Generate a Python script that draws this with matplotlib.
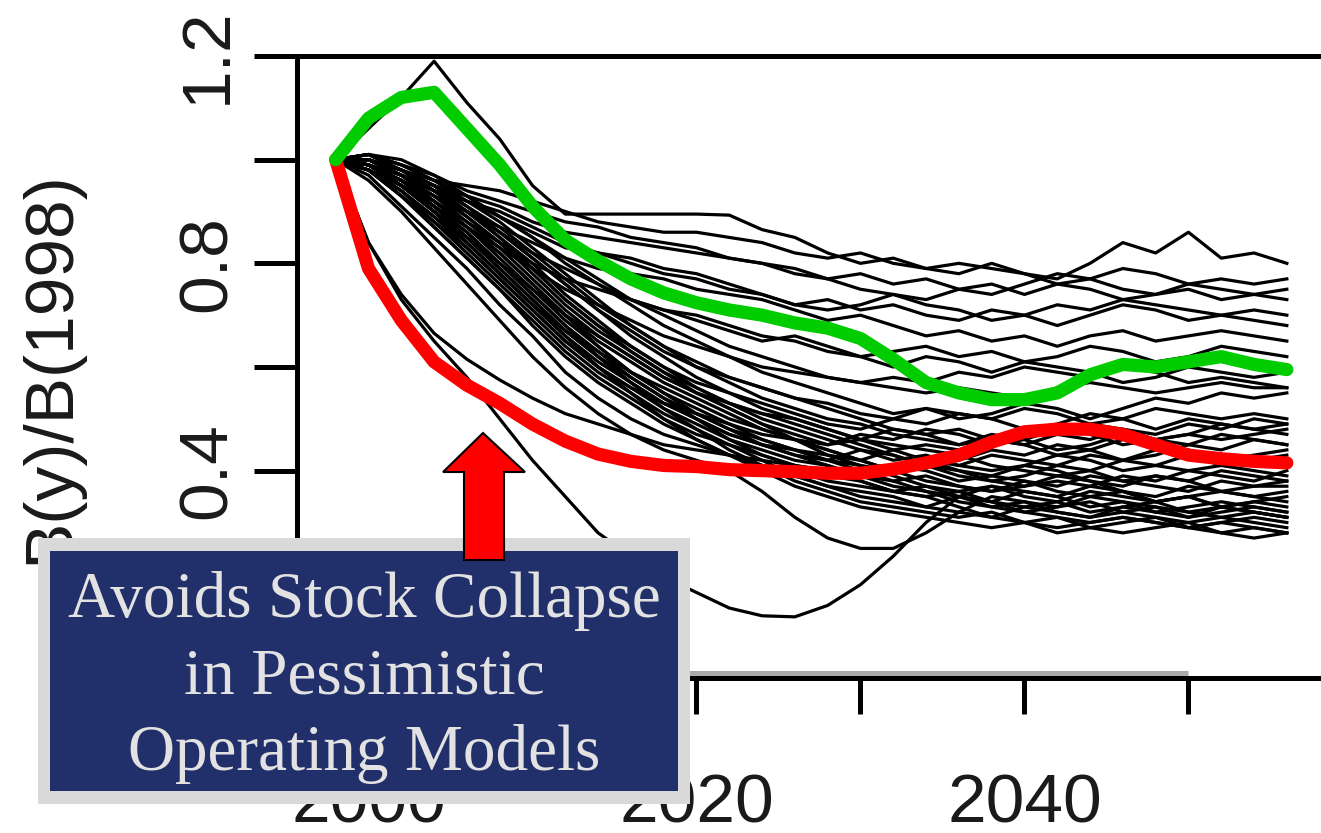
import numpy as np
import matplotlib.pyplot as plt
from matplotlib.patches import Rectangle, Polygon

W, H = 1321, 833

# projection years (every 2nd year)
years = np.arange(1998, 2057, 2)

green = [1.00, 1.08, 1.12, 1.13, 1.06, 0.99, 0.91, 0.845, 0.805, 0.77,
         0.743, 0.724, 0.71, 0.70, 0.685, 0.675, 0.655, 0.615, 0.57, 0.55,
         0.537, 0.537, 0.55, 0.585, 0.605, 0.60, 0.61, 0.62, 0.605, 0.595]
red = [1.00, 0.79, 0.69, 0.61, 0.565, 0.53, 0.49, 0.457, 0.432, 0.418,
       0.41, 0.408, 0.402, 0.40, 0.398, 0.395, 0.395, 0.403, 0.415, 0.43,
       0.455, 0.475, 0.48, 0.48, 0.47, 0.45, 0.43, 0.423, 0.418, 0.415]

# runs that stay high
upper_runs = [
    [1.00, 1.06, 1.12, 1.19, 1.11, 1.04, 0.95, 0.895, 0.895, 0.895, 0.895, 0.895, 0.893, 0.865, 0.85, 0.82, 0.80, 0.81, 0.79, 0.78, 0.80, 0.78, 0.76, 0.77, 0.75, 0.74, 0.75, 0.73, 0.74, 0.73],
    [1.00, 1.00, 0.98, 0.96, 0.95, 0.94, 0.92, 0.90, 0.88, 0.87, 0.86, 0.86, 0.85, 0.84, 0.82, 0.81, 0.82, 0.80, 0.79, 0.80, 0.79, 0.78, 0.77, 0.80, 0.84, 0.82, 0.86, 0.81, 0.82, 0.80],
    [1.00, 1.00, 0.98, 0.95, 0.93, 0.91, 0.88, 0.86, 0.85, 0.84, 0.83, 0.82, 0.81, 0.80, 0.78, 0.77, 0.78, 0.76, 0.77, 0.75, 0.76, 0.74, 0.76, 0.75, 0.73, 0.74, 0.76, 0.75, 0.74, 0.75],
    [1.00, 0.99, 0.97, 0.94, 0.92, 0.89, 0.86, 0.83, 0.82, 0.81, 0.79, 0.78, 0.76, 0.74, 0.72, 0.73, 0.71, 0.72, 0.70, 0.69, 0.71, 0.70, 0.68, 0.70, 0.72, 0.71, 0.69, 0.70, 0.69, 0.68],
    [1.00, 0.99, 0.96, 0.93, 0.90, 0.87, 0.84, 0.81, 0.79, 0.78, 0.77, 0.75, 0.74, 0.73, 0.71, 0.69, 0.70, 0.68, 0.66, 0.67, 0.65, 0.66, 0.64, 0.66, 0.67, 0.65, 0.66, 0.67, 0.66, 0.65],
    [1.00, 0.98, 0.95, 0.92, 0.88, 0.84, 0.80, 0.77, 0.75, 0.73, 0.71, 0.70, 0.68, 0.66, 0.65, 0.63, 0.62, 0.63, 0.64, 0.62, 0.63, 0.61, 0.62, 0.64, 0.63, 0.61, 0.62, 0.64, 0.63, 0.62],
    [1.00, 1.00, 0.97, 0.95, 0.92, 0.90, 0.87, 0.84, 0.82, 0.80, 0.78, 0.77, 0.75, 0.74, 0.72, 0.71, 0.72, 0.74, 0.73, 0.75, 0.74, 0.76, 0.78, 0.77, 0.79, 0.78, 0.76, 0.77, 0.76, 0.77],
    [1.00, 0.98, 0.95, 0.91, 0.87, 0.83, 0.79, 0.75, 0.72, 0.69, 0.66, 0.64, 0.62, 0.60, 0.59, 0.58, 0.57, 0.58, 0.57, 0.59, 0.58, 0.60, 0.59, 0.58, 0.60, 0.59, 0.57, 0.58, 0.57, 0.56],
    [1.00, 1.01, 0.99, 0.97, 0.94, 0.92, 0.90, 0.88, 0.87, 0.85, 0.84, 0.83, 0.81, 0.80, 0.79, 0.77, 0.75, 0.74, 0.72, 0.71, 0.69, 0.70, 0.72, 0.71, 0.73, 0.72, 0.71, 0.70, 0.71, 0.70],
    [1.00, 0.99, 0.97, 0.94, 0.90, 0.86, 0.82, 0.79, 0.76, 0.73, 0.71, 0.69, 0.67, 0.65, 0.66, 0.64, 0.62, 0.60, 0.62, 0.61, 0.59, 0.61, 0.60, 0.59, 0.57, 0.58, 0.60, 0.59, 0.58, 0.59],
]

# main bundle
bundle_runs = [
    [1.00, 0.97, 0.91, 0.85, 0.79, 0.72, 0.66, 0.59, 0.54, 0.50, 0.47, 0.45, 0.43, 0.41, 0.40, 0.38, 0.37, 0.36, 0.37, 0.35, 0.34, 0.36, 0.35, 0.33, 0.34, 0.33, 0.32, 0.33, 0.32, 0.31],
    [1.00, 0.98, 0.93, 0.87, 0.81, 0.75, 0.69, 0.63, 0.58, 0.54, 0.50, 0.47, 0.45, 0.43, 0.41, 0.40, 0.39, 0.41, 0.40, 0.38, 0.39, 0.41, 0.40, 0.38, 0.37, 0.39, 0.38, 0.36, 0.37, 0.38],
    [1.00, 0.99, 0.95, 0.90, 0.84, 0.78, 0.72, 0.66, 0.61, 0.57, 0.53, 0.50, 0.47, 0.45, 0.43, 0.42, 0.44, 0.43, 0.41, 0.42, 0.44, 0.43, 0.45, 0.44, 0.42, 0.43, 0.45, 0.44, 0.46, 0.45],
    [1.00, 0.99, 0.96, 0.92, 0.87, 0.81, 0.75, 0.69, 0.64, 0.59, 0.55, 0.52, 0.49, 0.46, 0.44, 0.42, 0.40, 0.38, 0.36, 0.35, 0.33, 0.32, 0.31, 0.30, 0.31, 0.30, 0.29, 0.30, 0.29, 0.28],
    [1.00, 1.00, 0.97, 0.93, 0.88, 0.83, 0.77, 0.71, 0.66, 0.62, 0.58, 0.55, 0.52, 0.49, 0.47, 0.45, 0.46, 0.48, 0.47, 0.45, 0.46, 0.48, 0.47, 0.49, 0.48, 0.46, 0.47, 0.49, 0.48, 0.47],
    [1.00, 0.98, 0.94, 0.88, 0.82, 0.76, 0.70, 0.64, 0.59, 0.55, 0.51, 0.48, 0.45, 0.42, 0.39, 0.37, 0.35, 0.34, 0.33, 0.35, 0.34, 0.32, 0.33, 0.35, 0.34, 0.32, 0.33, 0.34, 0.33, 0.32],
    [1.00, 1.01, 0.98, 0.94, 0.90, 0.85, 0.80, 0.74, 0.69, 0.64, 0.60, 0.56, 0.53, 0.50, 0.48, 0.46, 0.44, 0.42, 0.43, 0.41, 0.40, 0.41, 0.43, 0.42, 0.40, 0.41, 0.43, 0.42, 0.41, 0.42],
    [1.00, 0.99, 0.95, 0.91, 0.86, 0.80, 0.74, 0.68, 0.63, 0.58, 0.54, 0.50, 0.46, 0.43, 0.41, 0.39, 0.38, 0.36, 0.35, 0.33, 0.31, 0.30, 0.31, 0.29, 0.30, 0.31, 0.29, 0.28, 0.29, 0.28],
    [1.00, 1.00, 0.97, 0.94, 0.89, 0.84, 0.79, 0.73, 0.68, 0.64, 0.60, 0.57, 0.55, 0.53, 0.51, 0.49, 0.48, 0.50, 0.49, 0.51, 0.50, 0.48, 0.49, 0.51, 0.50, 0.48, 0.50, 0.49, 0.48, 0.49],
    [1.00, 0.98, 0.93, 0.88, 0.83, 0.77, 0.71, 0.65, 0.60, 0.56, 0.52, 0.49, 0.46, 0.44, 0.42, 0.41, 0.39, 0.38, 0.39, 0.37, 0.36, 0.37, 0.39, 0.38, 0.36, 0.35, 0.37, 0.36, 0.35, 0.36],
    [1.00, 1.00, 0.98, 0.95, 0.91, 0.86, 0.81, 0.76, 0.71, 0.66, 0.62, 0.58, 0.55, 0.52, 0.50, 0.48, 0.46, 0.44, 0.42, 0.40, 0.39, 0.38, 0.36, 0.35, 0.36, 0.34, 0.35, 0.33, 0.34, 0.35],
    [1.00, 0.99, 0.95, 0.90, 0.85, 0.79, 0.73, 0.67, 0.62, 0.57, 0.53, 0.50, 0.47, 0.45, 0.44, 0.43, 0.42, 0.44, 0.45, 0.44, 0.46, 0.45, 0.43, 0.44, 0.46, 0.45, 0.44, 0.42, 0.43, 0.44],
    [1.00, 1.01, 0.99, 0.96, 0.92, 0.88, 0.83, 0.78, 0.73, 0.68, 0.64, 0.60, 0.57, 0.54, 0.52, 0.50, 0.49, 0.47, 0.46, 0.45, 0.47, 0.46, 0.44, 0.45, 0.47, 0.46, 0.45, 0.47, 0.46, 0.45],
    [1.00, 0.99, 0.96, 0.91, 0.86, 0.80, 0.74, 0.68, 0.62, 0.57, 0.52, 0.48, 0.44, 0.41, 0.38, 0.36, 0.34, 0.33, 0.32, 0.31, 0.32, 0.30, 0.29, 0.30, 0.31, 0.30, 0.29, 0.30, 0.31, 0.30],
    [1.00, 1.00, 0.97, 0.93, 0.89, 0.84, 0.78, 0.72, 0.67, 0.63, 0.59, 0.56, 0.53, 0.51, 0.49, 0.47, 0.45, 0.43, 0.41, 0.40, 0.38, 0.37, 0.38, 0.37, 0.39, 0.38, 0.40, 0.39, 0.38, 0.40],
    [1.00, 1.01, 1.00, 0.97, 0.93, 0.89, 0.85, 0.80, 0.76, 0.72, 0.68, 0.65, 0.62, 0.59, 0.57, 0.55, 0.53, 0.51, 0.52, 0.50, 0.51, 0.53, 0.52, 0.50, 0.52, 0.54, 0.53, 0.55, 0.54, 0.55],
    [1.00, 1.00, 0.98, 0.95, 0.91, 0.87, 0.82, 0.77, 0.72, 0.68, 0.64, 0.61, 0.58, 0.56, 0.54, 0.52, 0.50, 0.48, 0.47, 0.48, 0.46, 0.45, 0.47, 0.46, 0.48, 0.47, 0.49, 0.48, 0.50, 0.49],
    [1.00, 0.98, 0.94, 0.89, 0.84, 0.78, 0.72, 0.66, 0.60, 0.55, 0.50, 0.46, 0.43, 0.40, 0.37, 0.35, 0.33, 0.32, 0.31, 0.30, 0.29, 0.30, 0.28, 0.29, 0.28, 0.29, 0.30, 0.28, 0.27, 0.28],
    [1.00, 1.01, 0.99, 0.96, 0.93, 0.89, 0.85, 0.81, 0.77, 0.73, 0.70, 0.67, 0.64, 0.62, 0.60, 0.58, 0.57, 0.56, 0.55, 0.56, 0.55, 0.54, 0.56, 0.57, 0.56, 0.55, 0.56, 0.57, 0.56, 0.56],
    [1.00, 0.99, 0.96, 0.92, 0.87, 0.82, 0.76, 0.70, 0.65, 0.61, 0.57, 0.54, 0.51, 0.48, 0.46, 0.44, 0.42, 0.40, 0.41, 0.39, 0.38, 0.39, 0.41, 0.40, 0.42, 0.41, 0.40, 0.41, 0.40, 0.39],
    [1.00, 1.00, 0.98, 0.94, 0.90, 0.86, 0.81, 0.76, 0.71, 0.67, 0.63, 0.60, 0.58, 0.56, 0.54, 0.53, 0.51, 0.50, 0.52, 0.51, 0.50, 0.52, 0.51, 0.49, 0.50, 0.52, 0.51, 0.50, 0.51, 0.50],
    [1.00, 0.99, 0.95, 0.90, 0.84, 0.78, 0.72, 0.67, 0.63, 0.59, 0.56, 0.53, 0.50, 0.48, 0.46, 0.43, 0.41, 0.39, 0.37, 0.36, 0.37, 0.35, 0.34, 0.36, 0.35, 0.34, 0.35, 0.36, 0.35, 0.34],
    [1.00, 0.99, 0.96, 0.91, 0.85, 0.79, 0.73, 0.67, 0.62, 0.58, 0.54, 0.51, 0.48, 0.46, 0.44, 0.42, 0.41, 0.40, 0.42, 0.41, 0.43, 0.42, 0.41, 0.43, 0.42, 0.44, 0.43, 0.41, 0.42, 0.43],
    [1.00, 1.00, 0.97, 0.92, 0.87, 0.82, 0.76, 0.70, 0.64, 0.59, 0.55, 0.51, 0.48, 0.45, 0.43, 0.41, 0.39, 0.37, 0.36, 0.34, 0.33, 0.34, 0.32, 0.31, 0.32, 0.31, 0.30, 0.31, 0.30, 0.29],
    [1.00, 0.98, 0.94, 0.89, 0.83, 0.77, 0.71, 0.65, 0.60, 0.56, 0.53, 0.51, 0.49, 0.47, 0.46, 0.45, 0.47, 0.46, 0.48, 0.47, 0.45, 0.46, 0.48, 0.47, 0.45, 0.46, 0.47, 0.46, 0.47, 0.48],
    [1.00, 1.01, 0.98, 0.95, 0.90, 0.85, 0.79, 0.73, 0.68, 0.63, 0.59, 0.55, 0.52, 0.49, 0.46, 0.44, 0.42, 0.40, 0.38, 0.37, 0.36, 0.38, 0.37, 0.39, 0.38, 0.37, 0.36, 0.38, 0.37, 0.37],
    [1.00, 0.99, 0.95, 0.90, 0.85, 0.80, 0.75, 0.70, 0.66, 0.62, 0.58, 0.55, 0.53, 0.51, 0.50, 0.48, 0.46, 0.45, 0.44, 0.43, 0.41, 0.40, 0.39, 0.40, 0.38, 0.39, 0.38, 0.40, 0.39, 0.38],
    [1.00, 0.98, 0.93, 0.87, 0.81, 0.75, 0.68, 0.62, 0.57, 0.53, 0.49, 0.46, 0.43, 0.41, 0.39, 0.37, 0.36, 0.35, 0.33, 0.32, 0.31, 0.33, 0.32, 0.31, 0.33, 0.32, 0.31, 0.33, 0.32, 0.31],
]

# runs that dip low
low_runs = [
    [1.00, 0.84, 0.73, 0.65, 0.58, 0.50, 0.42, 0.35, 0.28, 0.235, 0.195, 0.165, 0.135, 0.12, 0.118, 0.14, 0.18, 0.235, 0.30, 0.35, 0.37, 0.36, 0.35, 0.37, 0.36, 0.34, 0.35, 0.33, 0.34, 0.33],
    [1.00, 0.96, 0.90, 0.83, 0.76, 0.69, 0.62, 0.56, 0.51, 0.47, 0.44, 0.42, 0.40, 0.36, 0.31, 0.27, 0.25, 0.25, 0.28, 0.32, 0.35, 0.34, 0.33, 0.34, 0.32, 0.33, 0.31, 0.32, 0.33, 0.32],
    [1.00, 0.84, 0.74, 0.665, 0.615, 0.575, 0.54, 0.51, 0.49, 0.47, 0.45, 0.44, 0.43, 0.42, 0.41, 0.40, 0.38, 0.36, 0.35, 0.36, 0.34, 0.33, 0.34, 0.32, 0.33, 0.34, 0.32, 0.31, 0.32, 0.31],
]

x_ticks = [2000, 2010, 2020, 2030, 2040, 2050]
x_labels = ['2000', '', '2020', '', '2040', '']
y_ticks = [0.0, 0.2, 0.4, 0.6, 0.8, 1.0, 1.2]
y_labels = ['', '', '0.4', '', '0.8', '', '1.2']
note_lines = ['Avoids Stock Collapse', 'in Pessimistic', 'Operating Models']

plt.rcParams['font.family'] = 'Liberation Sans'


def fx(px):
    return px / W


def fy(py):
    return 1 - py / H


fig = plt.figure(figsize=(W / 100, H / 100), dpi=100)
ax = fig.add_axes([fx(297), fy(678), (1400 - 297) / W, (678 - 56) / H])
ax.set_xlim(1995.64, 2062.9)
ax.set_ylim(0, 1.2)

for run in upper_runs + bundle_runs + low_runs:
    ax.plot(years, run, color='black', lw=2.3, zorder=2)
ax.plot(years, red, color='#ff0000', lw=9.5, solid_capstyle='round', zorder=3)
ax.plot(years, green, color='#00cc00', lw=9.5, solid_capstyle='round', zorder=4)

# R style axis line just above the box
ax.plot([2000, 2050], [0.0106, 0.0106], color='#aaaaaa', lw=3.6,
        solid_capstyle='butt', clip_on=False, zorder=1)

for s in ['left', 'top', 'bottom']:
    ax.spines[s].set_linewidth(3.6)
ax.spines['right'].set_visible(False)

ax.set_xticks(x_ticks)
ax.set_xticklabels(x_labels)
ax.set_yticks(y_ticks)
ax.set_yticklabels(y_labels)
ax.tick_params(axis='x', length=26, width=3.6, pad=42, labelsize=50,
               labelcolor='#1a1a1a')
ax.tick_params(axis='y', length=31, width=3.6, pad=10, labelsize=50,
               labelcolor='#1a1a1a', labelrotation=90)
for lab in ax.get_yticklabels():
    lab.set_va('center')

fig.text(fx(50), fy(367), 'B(y)/B(1998)', rotation=90, ha='center',
         va='center', fontsize=50, color='#1a1a1a')

# annotation box
fig.add_artist(Rectangle((fx(38), fy(804)), (690 - 38) / W, (804 - 538) / H,
                         transform=fig.transFigure, facecolor='#d9d9d9',
                         edgecolor='none', zorder=5))
fig.add_artist(Rectangle((fx(50), fy(791)), (678 - 50) / W, (791 - 551) / H,
                         transform=fig.transFigure, facecolor='#21306a',
                         edgecolor='none', zorder=6))
for txt, base in zip(note_lines, [617, 693, 770]):
    fig.text(fx(364), fy(base), txt, ha='center', va='baseline', fontsize=47,
             family='Liberation Serif', color='#e2e2e2', zorder=7)

arrow_px = [(483, 433), (525, 472), (504, 472), (504, 560),
            (464, 560), (464, 472), (443, 472)]
fig.add_artist(Polygon([(fx(x), fy(y)) for x, y in arrow_px], closed=True,
                       transform=fig.transFigure, facecolor='#ff0000',
                       edgecolor='black', lw=1.5, zorder=8))

fig.savefig('out.png', dpi=100)
